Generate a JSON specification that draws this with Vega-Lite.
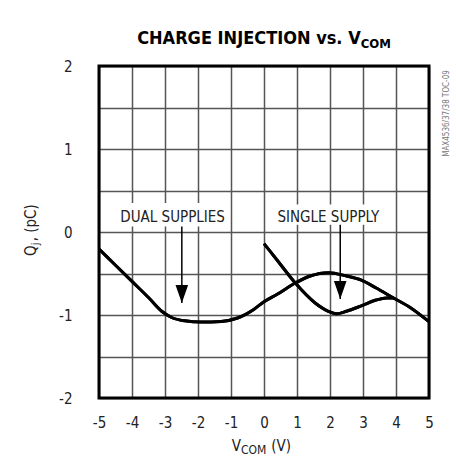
{
  "$schema": "https://vega.github.io/schema/vega-lite/v6.json",
  "width": 330,
  "height": 332,
  "autosize": {"type": "none"},
  "padding": {"left": 99, "top": 66, "right": 27, "bottom": 61},
  "background": "white",
  "datasets": {
    "curves": [
      {"series": "Dual Supplies", "v": -5.0, "q": -0.205},
      {"series": "Dual Supplies", "v": -4.5, "q": -0.40},
      {"series": "Dual Supplies", "v": -4.0, "q": -0.595},
      {"series": "Dual Supplies", "v": -3.5, "q": -0.79},
      {"series": "Dual Supplies", "v": -3.1, "q": -0.955},
      {"series": "Dual Supplies", "v": -2.8, "q": -1.03},
      {"series": "Dual Supplies", "v": -2.4, "q": -1.07},
      {"series": "Dual Supplies", "v": -1.9, "q": -1.085},
      {"series": "Dual Supplies", "v": -1.3, "q": -1.077},
      {"series": "Dual Supplies", "v": -0.8, "q": -1.036},
      {"series": "Dual Supplies", "v": -0.3, "q": -0.93},
      {"series": "Dual Supplies", "v": 0.0, "q": -0.84},
      {"series": "Dual Supplies", "v": 0.4, "q": -0.75},
      {"series": "Dual Supplies", "v": 0.95, "q": -0.615},
      {"series": "Dual Supplies", "v": 1.4, "q": -0.53},
      {"series": "Dual Supplies", "v": 1.95, "q": -0.49},
      {"series": "Dual Supplies", "v": 2.5, "q": -0.53},
      {"series": "Dual Supplies", "v": 2.95, "q": -0.58},
      {"series": "Dual Supplies", "v": 3.4, "q": -0.675},
      {"series": "Dual Supplies", "v": 3.9, "q": -0.79},
      {"series": "Dual Supplies", "v": 4.45, "q": -0.915},
      {"series": "Dual Supplies", "v": 5.0, "q": -1.08},
      {"series": "Single Supply", "v": 0.0, "q": -0.14},
      {"series": "Single Supply", "v": 0.4, "q": -0.34},
      {"series": "Single Supply", "v": 0.95, "q": -0.615},
      {"series": "Single Supply", "v": 1.55, "q": -0.855},
      {"series": "Single Supply", "v": 1.95, "q": -0.955},
      {"series": "Single Supply", "v": 2.2, "q": -0.985},
      {"series": "Single Supply", "v": 2.5, "q": -0.955},
      {"series": "Single Supply", "v": 2.95, "q": -0.89},
      {"series": "Single Supply", "v": 3.4, "q": -0.82},
      {"series": "Single Supply", "v": 3.7, "q": -0.795},
      {"series": "Single Supply", "v": 3.93, "q": -0.795}
    ],
    "labels": [
      {"label": "DUAL SUPPLIES", "lx": -2.77, "ly": 0.12, "bx1": -4.49, "bx2": -1.07, "by1": 0.065, "by2": 0.35, "ax": -2.49, "atop": 0.065, "atip": -0.855},
      {"label": "SINGLE SUPPLY", "lx": 1.95, "ly": 0.12, "bx1": 0.23, "bx2": 3.6, "by1": 0.088, "by2": 0.33, "ax": 2.31, "atop": 0.088, "atip": -0.807}
    ],
    "one": [{}]
  },
  "config": {
    "view": {"stroke": null},
    "axis": {
      "labelFont": "DejaVu Sans Condensed, Roboto, Liberation Sans",
      "labelFontSize": 15,
      "labelColor": "#222",
      "gridColor": "#555",
      "gridWidth": 1.5,
      "domain": false,
      "ticks": false,
      "labelFlush": false,
      "labelOverlap": false
    },
    "text": {"font": "DejaVu Sans Condensed, Roboto, Liberation Sans", "color": "#111"}
  },
  "layer": [
    {
      "data": {"name": "curves"},
      "mark": {"type": "line", "interpolate": "monotone", "color": "black", "strokeWidth": 3},
      "encoding": {
        "x": {"field": "v", "type": "quantitative", "title": null, "scale": {"domain": [-5, 5], "nice": false, "zero": false},
              "axis": {"values": [-5, -4, -3, -2, -1, 0, 1, 2, 3, 4, 5], "tickCount": 11, "labelPadding": 17, "grid": true, "labelOverlap": false,
                       "labelExpr": "datum.value < 0 ? '-' + abs(datum.value) : '' + datum.value"}},
        "y": {"field": "q", "type": "quantitative", "title": null, "scale": {"domain": [-2, 2], "nice": false, "zero": false},
              "axis": {"values": [-2, -1.5, -1, -0.5, 0, 0.5, 1, 1.5, 2], "tickCount": 9, "labelPadding": 27, "grid": true, "labelOverlap": false,
                       "labelExpr": "datum.value % 1 !== 0 ? '' : (datum.value < 0 ? '-' + abs(datum.value) : '' + datum.value)"}},
        "detail": {"field": "series"}
      }
    },
    {
      "data": {"name": "labels"},
      "mark": {"type": "rect", "fill": "white"},
      "encoding": {
        "x": {"field": "bx1", "type": "quantitative", "title": null},
        "x2": {"field": "bx2"},
        "y": {"field": "by1", "type": "quantitative", "title": null},
        "y2": {"field": "by2"}
      }
    },
    {
      "data": {"name": "labels"},
      "mark": {"type": "text", "fontSize": 15, "align": "center", "baseline": "alphabetic", "color": "#222"},
      "encoding": {
        "x": {"field": "lx", "type": "quantitative", "title": null},
        "y": {"field": "ly", "type": "quantitative", "title": null},
        "text": {"field": "label"}
      }
    },
    {
      "data": {"name": "labels"},
      "mark": {"type": "rule", "color": "black", "strokeWidth": 1.5},
      "encoding": {
        "x": {"field": "ax", "type": "quantitative", "title": null},
        "y": {"field": "atop", "type": "quantitative", "title": null},
        "y2": {"field": "atip"}
      }
    },
    {
      "data": {"name": "labels"},
      "mark": {"type": "point", "shape": "M-0.35,-1L0.35,-1L0,0Z", "size": 1296, "filled": true, "color": "black", "opacity": 1},
      "encoding": {
        "x": {"field": "ax", "type": "quantitative", "title": null},
        "y": {"field": "atip", "type": "quantitative", "title": null}
      }
    },
    {
      "data": {"name": "curves"},
      "mark": {"type": "line", "interpolate": "monotone", "color": "black", "strokeWidth": 3},
      "encoding": {
        "x": {"field": "v", "type": "quantitative", "title": null},
        "y": {"field": "q", "type": "quantitative", "title": null},
        "detail": {"field": "series"}
      }
    },
    {
      "data": {"name": "one"},
      "mark": {"type": "rect", "fill": null, "filled": false, "stroke": "black", "strokeWidth": 3},
      "encoding": {
        "x": {"datum": -5, "type": "quantitative"},
        "x2": {"datum": 5},
        "y": {"datum": -2, "type": "quantitative"},
        "y2": {"datum": 2}
      }
    },
    {
      "data": {"name": "one"},
      "mark": {"type": "text", "text": "CHARGE INJECTION vs. V", "fontSize": 18, "fontWeight": "bold", "align": "right", "baseline": "alphabetic", "color": "black"},
      "encoding": {"x": {"datum": 2.93, "type": "quantitative"}, "y": {"datum": 2.265, "type": "quantitative"}}
    },
    {
      "data": {"name": "one"},
      "mark": {"type": "text", "text": "COM", "fontSize": 13, "fontWeight": "bold", "align": "left", "baseline": "alphabetic", "dy": 3.5, "color": "black"},
      "encoding": {"x": {"datum": 2.93, "type": "quantitative"}, "y": {"datum": 2.265, "type": "quantitative"}}
    },
    {
      "data": {"name": "one"},
      "mark": {"type": "text", "text": "V", "fontSize": 15, "align": "right", "baseline": "alphabetic", "color": "#222"},
      "encoding": {"x": {"datum": -0.697, "type": "quantitative"}, "y": {"datum": -2.64, "type": "quantitative"}}
    },
    {
      "data": {"name": "one"},
      "mark": {"type": "text", "text": "COM", "fontSize": 12, "align": "left", "baseline": "alphabetic", "dy": 3, "color": "#222"},
      "encoding": {"x": {"datum": -0.697, "type": "quantitative"}, "y": {"datum": -2.64, "type": "quantitative"}}
    },
    {
      "data": {"name": "one"},
      "mark": {"type": "text", "text": "(V)", "fontSize": 15, "align": "left", "baseline": "alphabetic", "color": "#222"},
      "encoding": {"x": {"datum": 0.22, "type": "quantitative"}, "y": {"datum": -2.64, "type": "quantitative"}}
    },
    {
      "data": {"name": "one"},
      "mark": {"type": "text", "text": "Q", "fontSize": 15, "angle": 270, "align": "right", "baseline": "alphabetic", "color": "#222"},
      "encoding": {"x": {"datum": -6.91, "type": "quantitative"}, "y": {"datum": -0.16, "type": "quantitative"}}
    },
    {
      "data": {"name": "one"},
      "mark": {"type": "text", "text": "j", "fontSize": 11, "angle": 270, "align": "left", "baseline": "alphabetic", "dy": 3, "color": "#222"},
      "encoding": {"x": {"datum": -6.91, "type": "quantitative"}, "y": {"datum": -0.16, "type": "quantitative"}}
    },
    {
      "data": {"name": "one"},
      "mark": {"type": "text", "text": ", (pC)", "fontSize": 15, "angle": 270, "align": "left", "baseline": "alphabetic", "dx": 4, "color": "#222"},
      "encoding": {"x": {"datum": -6.91, "type": "quantitative"}, "y": {"datum": -0.16, "type": "quantitative"}}
    },
    {
      "data": {"name": "one"},
      "mark": {"type": "text", "text": "MAX4536/37/38 TOC-09", "fontSize": 8, "angle": 270, "align": "right", "baseline": "alphabetic", "color": "#777"},
      "encoding": {"x": {"datum": 5.6, "type": "quantitative"}, "y": {"datum": 1.95, "type": "quantitative"}}
    }
  ]
}
